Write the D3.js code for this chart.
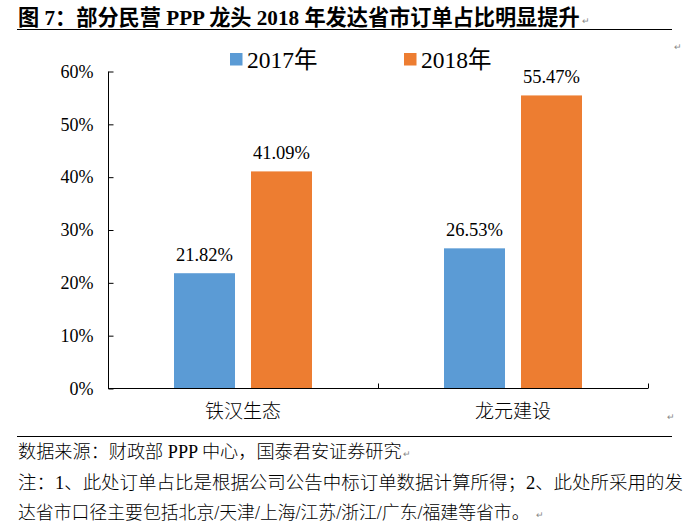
<!DOCTYPE html>
<html><head><meta charset="utf-8">
<script src="https://cdn.jsdelivr.net/npm/d3@7"></script>
<style>
body{margin:0;background:#fff;}
svg{display:block;}
text{font-family:"Liberation Serif","Times New Roman","Noto Sans CJK SC",serif;fill:#000;}
</style></head>
<body>
<script>
const categories = ["铁汉生态", "龙元建设"];
const series = ["2017年", "2018年"];
const values2017 = [21.82, 26.53];
const values2018 = [41.09, 55.47];
const yTicks = [0, 10, 20, 30, 40, 50, 60];
const colors = ["#5B9BD5", "#ED7D31"];
const titleText = "图 7：部分民营 PPP 龙头 2018 年发达省市订单占比明显提升";
const sourceText = "数据来源：财政部 PPP 中心，国泰君安证券研究";
const noteLines = ["注：1、此处订单占比是根据公司公告中标订单数据计算所得；2、此处所采用的发",
                   "达省市口径主要包括北京/天津/上海/江苏/浙江/广东/福建等省市。"];

const W = 695, H = 528;
const svg = d3.select("body").append("svg").attr("width", W).attr("height", H);
const mark = (x, yy) => svg.append("text").attr("x", x).attr("y", yy).attr("font-size", 9).style("fill", "#888").text("↵");
// scale font size so the text spans the given width
function fit(sel, target) {
  const fs = +sel.attr("font-size");
  const w = sel.node().getComputedTextLength();
  if (w > 0) sel.attr("font-size", fs * target / w);
  return sel;
}

// Title
const title = svg.append("text").attr("x", 18).attr("y", 25).attr("font-size", 20).attr("font-weight", "bold")
  .style("font-family", "'Liberation Serif','Noto Sans CJK SC',serif").text(titleText);
fit(title, 562);
mark(582, 24);
svg.append("line").attr("x1", 17).attr("x2", 672).attr("y1", 29.5).attr("y2", 29.5).attr("stroke", "#000").attr("stroke-width", 1);
mark(674, 50);

// Scales
const x0 = d3.scaleBand().domain(categories).range([108, 648]).paddingInner(0).paddingOuter(0);
const x1 = d3.scaleBand().domain(series).range([0, x0.bandwidth()]).paddingInner(0.208).paddingOuter(0.857);
const y = d3.scaleLinear().domain([0, 60]).range([388.5, 71.5]);

// Y axis
const yAxis = d3.axisLeft(y).tickValues(yTicks).tickFormat(d => d + "%").tickSize(-5).tickPadding(15);
const gy = svg.append("g").attr("transform", "translate(108.5,0)").call(yAxis);
gy.select(".domain").attr("stroke", "#000").attr("d", `M0,${y(60)}V${y(0)}`);
gy.selectAll(".tick line").attr("stroke", "#000");
gy.selectAll(".tick text").attr("font-size", 18).style("font-family", "'Liberation Serif',serif");

// Bars
const data = categories.map((c, i) => ({cat: c, vals: [values2017[i], values2018[i]]}));
const groups = svg.append("g").selectAll("g").data(data).join("g")
  .attr("transform", d => `translate(${x0(d.cat)},0)`);
groups.selectAll("rect").data(d => d.vals.map((v, j) => ({s: series[j], v, j}))).join("rect")
  .attr("x", d => x1(d.s)).attr("width", x1.bandwidth())
  .attr("y", d => y(d.v)).attr("height", d => y(0) - y(d.v))
  .attr("fill", d => colors[d.j]);
groups.selectAll("text.lbl").data(d => d.vals.map((v, j) => ({s: series[j], v, j}))).join("text")
  .attr("class", "lbl")
  .attr("x", d => x1(d.s) + x1.bandwidth() / 2).attr("y", d => y(d.v) - 12)
  .attr("text-anchor", "middle").attr("font-size", 18.5)
  .text(d => d.v.toFixed(2) + "%");

// X axis
const xAxis = d3.axisBottom(x0).tickSize(0).tickPadding(16);
const gx = svg.append("g").attr("transform", "translate(0,388.5)").call(xAxis);
gx.select(".domain").attr("stroke", "#000").attr("d", `M108,0H648`);
gx.selectAll(".tick text").attr("font-size", 19).style("font-family", "'Noto Sans CJK SC',sans-serif").style("font-weight", 300);
gx.selectAll("line.sep").data(categories).join("line").attr("class", "sep")
  .attr("x1", d => x0(d) + x0.bandwidth() + 0.5).attr("x2", d => x0(d) + x0.bandwidth() + 0.5)
  .attr("y1", 0).attr("y2", -5).attr("stroke", "#000");
mark(667, 420);

// Legend
const lg = svg.append("g");
const legX = [230, 404];
series.forEach((s, i) => {
  lg.append("rect").attr("x", legX[i]).attr("y", 53).attr("width", 12.5).attr("height", 12.5).attr("fill", colors[i]);
  lg.append("text").attr("x", legX[i] + 17).attr("y", 67.5).attr("font-size", 23.5)
    .style("font-family", "'Liberation Serif','Noto Sans CJK SC',serif").text(s);
});

// Bottom rule & notes
svg.append("line").attr("x1", 17).attr("x2", 672).attr("y1", 436.5).attr("y2", 436.5).attr("stroke", "#000");
const noteStyle = sel => sel.attr("x", 18).attr("font-size", 16)
  .style("font-family", "'Liberation Serif','Noto Sans CJK SC',sans-serif").style("font-weight", 300);
fit(svg.append("text").call(noteStyle).attr("y", 458).text(sourceText), 384);
mark(403, 457);
const noteLen = [665, 512];
noteLines.forEach((t, i) => {
  fit(svg.append("text").call(noteStyle).attr("y", 489 + i * 30).text(t), noteLen[i]);
});
mark(536, 518);
</script>
</body></html>
